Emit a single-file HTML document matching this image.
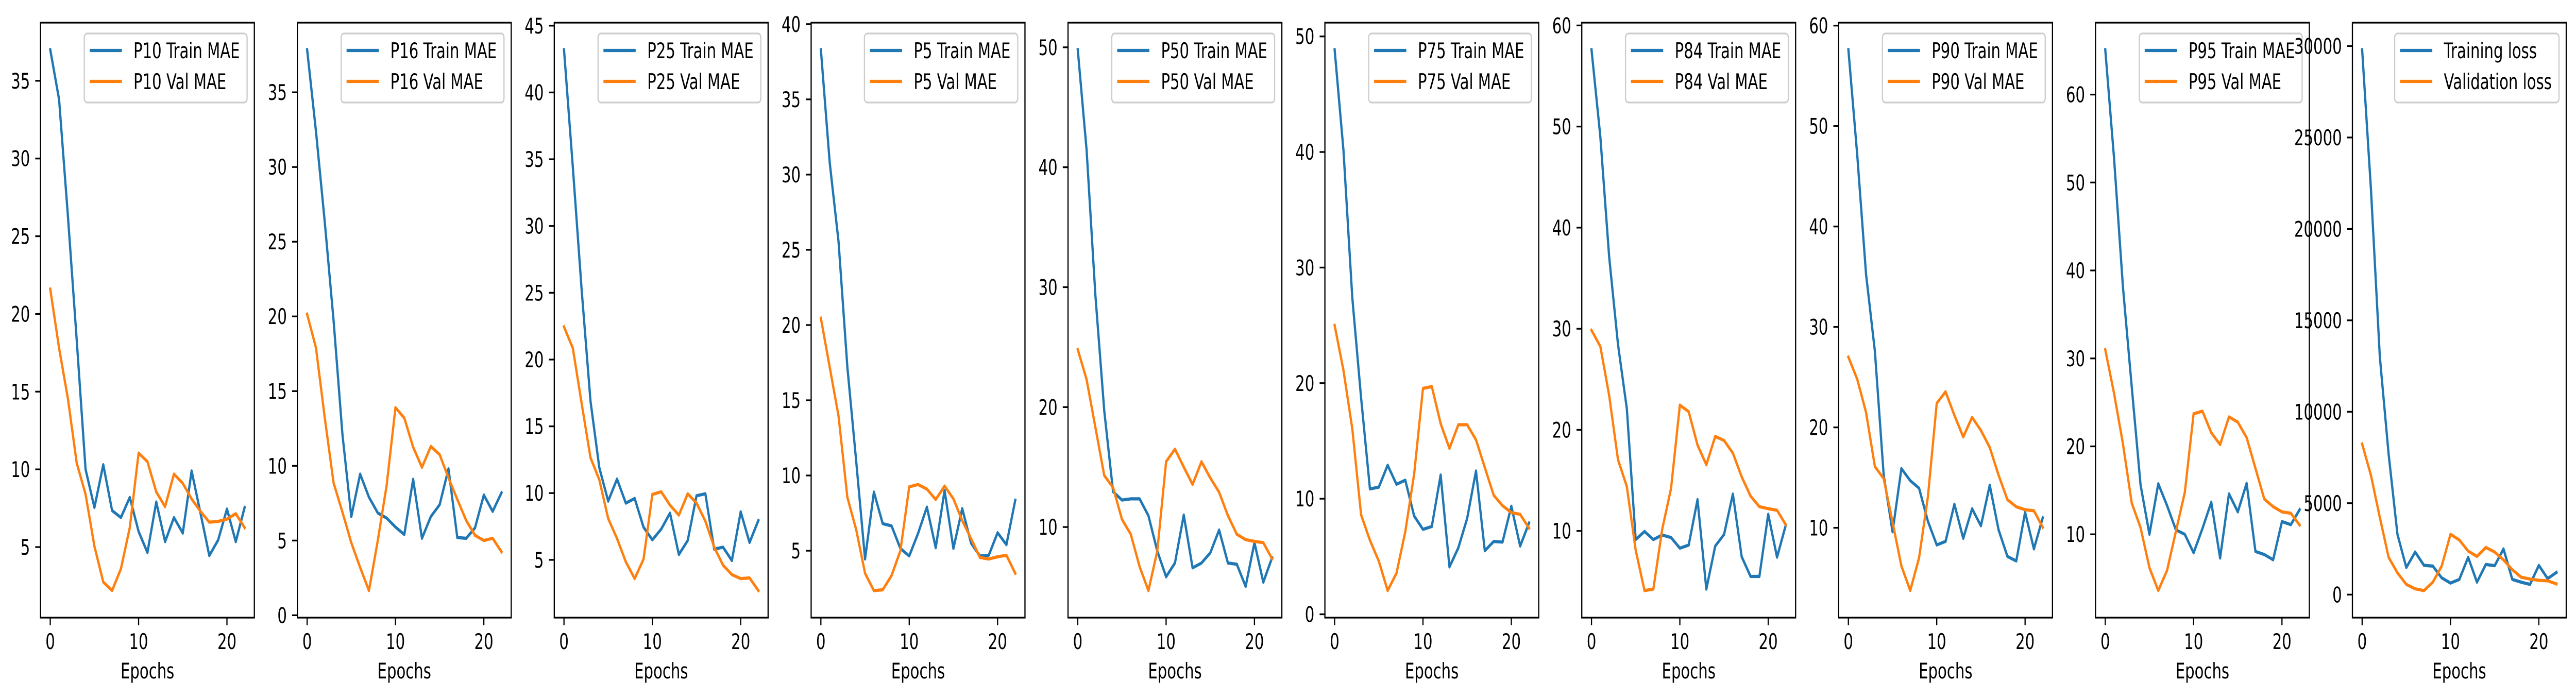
<!DOCTYPE html>
<html><head><meta charset="utf-8">
<style>
html,body{margin:0;padding:0;background:#fff;width:100%;height:100%;overflow:hidden;}
svg{display:block;position:absolute;left:0;top:0;width:100vw;height:100vh;}
text{font-family:"DejaVu Sans","Liberation Sans",sans-serif;font-size:41.5px;fill:#000;}
</style></head>
<body>
<svg id="fig" xmlns="http://www.w3.org/2000/svg" viewBox="0 0 7120 1355" preserveAspectRatio="none">
<rect width="7120" height="1355" fill="#fff"/>
</svg>
<script>
const epochs = [0,1,2,3,4,5,6,7,8,9,10,11,12,13,14,15,16,17,18,19,20,21,22];
const xTicks = [0,10,20];
const panelNames = ["P10","P16","P25","P5","P50","P75","P84","P90","P95","Loss"];
const trainLabels = ["P10 Train MAE","P16 Train MAE","P25 Train MAE","P5 Train MAE","P50 Train MAE","P75 Train MAE","P84 Train MAE","P90 Train MAE","P95 Train MAE","Training loss"];
const valLabels = ["P10 Val MAE","P16 Val MAE","P25 Val MAE","P5 Val MAE","P50 Val MAE","P75 Val MAE","P84 Val MAE","P90 Val MAE","P95 Val MAE","Validation loss"];

const p10Train = [37.0,33.8,26.3,18.3,10.0,7.55,10.3,7.35,6.9,8.2,6.0,4.65,7.9,5.35,6.9,5.9,9.9,7.2,4.45,5.45,7.45,5.35,7.55];
const p10Val = [21.6,17.8,14.55,10.4,8.4,5.05,2.75,2.2,3.6,6.25,11.05,10.5,8.55,7.6,9.7,9.1,8.1,7.3,6.6,6.65,6.8,7.15,6.25];
const p16Train = [37.85,32.4,26.3,19.7,12.1,6.6,9.45,7.9,6.85,6.5,5.9,5.4,9.1,5.15,6.6,7.4,9.8,5.2,5.15,5.85,8.05,6.95,8.2];
const p16Val = [20.15,17.9,13.2,8.85,6.9,4.85,3.2,1.65,5.0,8.7,13.9,13.2,11.25,9.9,11.3,10.75,9.2,7.75,6.35,5.35,5.0,5.15,4.25];
const p25Train = [43.2,34.4,25.2,16.9,11.9,9.4,11.05,9.25,9.6,7.45,6.5,7.3,8.5,5.4,6.45,9.8,9.95,5.8,5.95,4.95,8.6,6.3,7.95];
const p25Val = [22.45,20.85,16.7,12.65,11.0,8.1,6.6,4.85,3.6,5.05,9.9,10.1,9.1,8.35,9.95,9.25,7.9,5.95,4.6,3.9,3.6,3.65,2.7];
const p5Train = [38.3,30.8,25.55,17.2,10.95,4.45,8.9,6.8,6.65,5.15,4.65,6.15,7.9,5.2,9.0,5.15,7.8,5.5,4.65,4.7,6.2,5.4,8.35];
const p5Val = [20.45,17.2,13.95,8.55,6.4,3.5,2.35,2.4,3.35,5.0,9.25,9.4,9.1,8.4,9.3,8.45,7.0,5.8,4.55,4.45,4.6,4.7,3.5];
const p50Train = [49.8,41.45,29.3,19.7,12.95,12.25,12.35,12.35,10.95,8.0,5.85,7.0,11.0,6.6,7.0,7.85,9.75,7.0,6.9,5.05,8.7,5.4,7.45];
const p50Val = [24.8,22.3,18.3,14.3,13.3,10.65,9.4,6.7,4.7,8.0,15.45,16.5,15.0,13.55,15.45,14.1,12.9,10.95,9.4,8.95,8.8,8.7,7.35];
const p75Train = [48.85,40.15,27.4,18.7,10.85,11.0,12.9,11.25,11.6,8.5,7.35,7.6,12.05,4.1,5.75,8.3,12.4,5.5,6.3,6.25,9.35,5.9,7.9];
const p75Val = [25.0,21.1,16.05,8.6,6.4,4.6,2.05,3.55,7.15,12.15,19.55,19.7,16.5,14.35,16.4,16.4,15.1,12.7,10.3,9.4,8.8,8.65,7.45];
const p84Train = [57.6,49.0,37.1,28.45,22.1,9.15,9.95,9.15,9.6,9.35,8.3,8.6,13.1,4.25,8.5,9.65,13.65,7.45,5.5,5.5,11.65,7.4,10.6];
const p84Val = [29.85,28.25,23.4,17.05,14.4,8.1,4.1,4.25,10.15,14.2,22.45,21.8,18.5,16.55,19.35,18.95,17.7,15.35,13.45,12.4,12.2,12.05,10.6];
const p90Train = [57.6,47.15,35.25,27.6,15.25,9.6,15.9,14.7,13.95,10.65,8.3,8.65,12.35,8.95,11.9,10.2,14.25,9.8,7.15,6.7,11.55,7.9,11.0];
const p90Val = [27.0,24.8,21.5,16.1,14.9,10.55,6.2,3.75,7.0,13.1,22.4,23.55,21.2,19.05,21.0,19.7,18.0,15.25,12.8,12.1,11.8,11.7,10.05];
const p95Train = [65.1,52.7,38.15,26.75,15.6,10.0,15.75,13.25,10.5,10.0,7.9,10.65,13.65,7.3,14.6,12.55,15.8,8.05,7.7,7.1,11.45,11.1,12.8];
const p95Val = [31.0,26.0,20.3,13.55,10.75,6.2,3.6,5.9,10.35,14.75,23.7,24.0,21.55,20.2,23.35,22.75,21.0,17.5,14.0,13.15,12.55,12.4,11.05];
const lossTrain = [29800,22150,13030,7680,3300,1480,2330,1600,1560,920,630,830,2040,680,1650,1580,2500,830,680,560,1600,875,1215];
const lossVal = [8240,6515,4230,2040,1190,560,316,220,680,1555,3300,2990,2380,2090,2580,2330,1900,1360,950,850,780,755,585];

const trainSeries = [p10Train,p16Train,p25Train,p5Train,p50Train,p75Train,p84Train,p90Train,p95Train,lossTrain];
const valSeries = [p10Val,p16Val,p25Val,p5Val,p50Val,p75Val,p84Val,p90Val,p95Val,lossVal];

const NS = "http://www.w3.org/2000/svg";
const fig = document.getElementById("fig");
const BLUE = "#1f77b4", ORANGE = "#ff7f0e";
const AX_LEFT0 = 112, AX_STEP = 710, AX_W = 591, AX_TOP = 44, AX_H = 1155;

function mk(tag, attrs, parent){
  const e = document.createElementNS(NS, tag);
  for (const k in attrs) e.setAttribute(k, attrs[k]);
  (parent || fig).appendChild(e);
  return e;
}
function niceStep(lo, hi){
  const span = hi - lo;
  const mag = Math.pow(10, Math.floor(Math.log10(span)));
  const mults = [0.1,0.2,0.25,0.5,1,2,2.5,5,10];
  for (const m of mults){
    const s = m * mag;
    const n = Math.floor(hi / s) - Math.ceil(lo / s) + 1;
    if (n <= 9) return s;
  }
  return 10 * mag;
}

for (let p = 0; p < panelNames.length; p++){
  const tr = trainSeries[p], va = valSeries[p];
  const left = AX_LEFT0 + AX_STEP * p, top = AX_TOP, w = AX_W, h = AX_H;
  const xmin = Math.min(...epochs), xmax = Math.max(...epochs);
  const xpad = (xmax - xmin) * 0.05;
  const x0 = xmin - xpad, x1 = xmax + xpad;
  const all = tr.concat(va);
  const dmin = Math.min(...all), dmax = Math.max(...all);
  const ypad = (dmax - dmin) * 0.05;
  const y0 = dmin - ypad, y1 = dmax + ypad;
  const sx = v => left + (v - x0) / (x1 - x0) * w;
  const sy = v => top + h - (v - y0) / (y1 - y0) * h;

  const g = mk("g", {});
  
  

  const mkLine = (arr, color, nm) => {
    const d = arr.map((v,i) => (i ? "L" : "M") + sx(epochs[i]).toFixed(1) + "," + sy(v).toFixed(1)).join(" ");
    const path = mk("path", {d: d, fill: "none", stroke: color, "stroke-width": 6.2, "stroke-linejoin": "round", "stroke-linecap": "square"}, g);
    
    
  };
  mkLine(tr, BLUE, 'train-line-' + panelNames[p].toLowerCase());
  mkLine(va, ORANGE, 'val-line-' + panelNames[p].toLowerCase());

  const frame = mk("rect", {x: left, y: top, width: w, height: h, fill: "none", stroke: "#000", "stroke-width": 3.3}, g);
  
  

  for (const t of xTicks){
    const xx = sx(t);
    mk("line", {x1: xx, y1: top + h, x2: xx, y2: top + h + 14.6, stroke: "#000", "stroke-width": 3.3}, g);
    const lab = mk("text", {x: xx, y: 1260, "text-anchor": "middle"}, g);
    lab.textContent = String(t);
    
    
  }
  const xl = mk("text", {x: left + w / 2, y: 1317, "text-anchor": "middle"}, g);
  xl.textContent = "Epochs";
  
  

  const step = niceStep(y0, y1);
  for (let t = Math.ceil(y0 / step) * step; t <= y1 + 1e-9; t += step){
    const yy = sy(t);
    mk("line", {x1: left - 14.6, y1: yy, x2: left, y2: yy, stroke: "#000", "stroke-width": 3.3}, g);
    const lab = mk("text", {x: left - 29, y: yy + 15, "text-anchor": "end"}, g);
    lab.textContent = String(Math.round(t * 100) / 100);
    
    
  }

  const lg = mk("g", {}, g);
  
  
  const box = mk("rect", {x: 0, y: top + 21, width: 10, height: 134, rx: 8, ry: 8, fill: "#fff", "fill-opacity": 0.8, stroke: "#cccccc", "stroke-width": 3.3}, lg);
  const t1 = mk("text", {x: 0, y: 113}, lg);
  t1.textContent = trainLabels[p];
  
  
  const t2 = mk("text", {x: 0, y: 173}, lg);
  t2.textContent = valLabels[p];
  
  
  const tw = Math.max(t1.getComputedTextLength(), t2.getComputedTextLength());
  const bRight = left + w - 20;
  const bw = tw + 136 + 20;
  const bLeft = bRight - bw;
  box.setAttribute("x", bLeft);
  box.setAttribute("width", bw);
  t1.setAttribute("x", bLeft + 136);
  t2.setAttribute("x", bLeft + 136);
  mk("line", {x1: bLeft + 15, y1: 98, x2: bLeft + 104, y2: 98, stroke: BLUE, "stroke-width": 6.2}, lg);
  mk("line", {x1: bLeft + 15, y1: 158, x2: bLeft + 104, y2: 158, stroke: ORANGE, "stroke-width": 6.2}, lg);
}
</script>
</body></html>
